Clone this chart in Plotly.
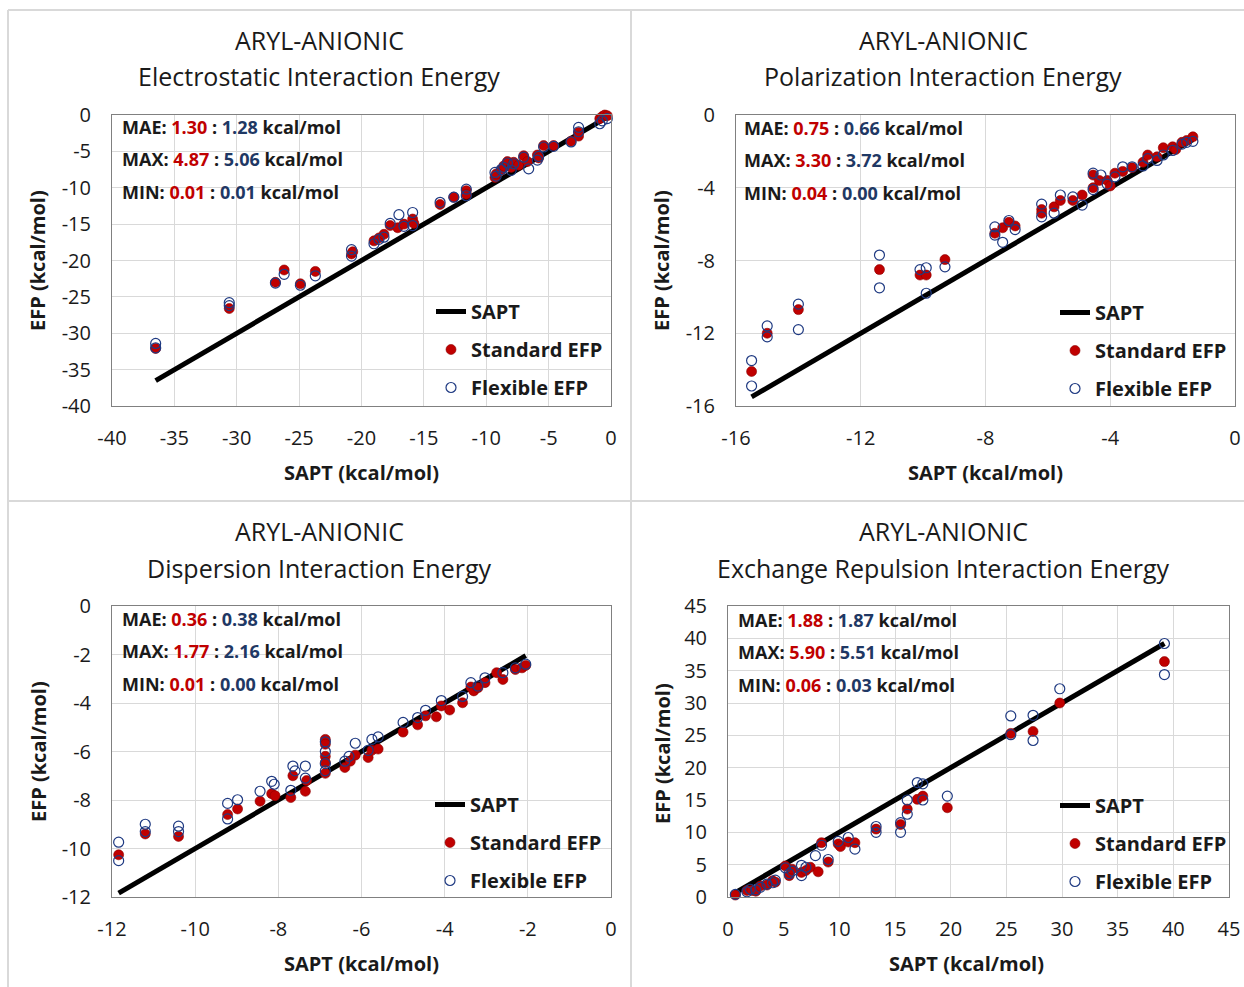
import plotly.graph_objects as go

# ---------------- data ----------------
# Electrostatic
elst_std_sapt = [-36.5, -30.6, -26.9, -26.2, -24.9, -23.7, -20.8, -20.7, -19.0, -18.6, -18.2, -17.7, -17.1, -16.6,
                 -15.9, -15.8, -13.7, -12.6, -11.6, -11.6, -9.3, -9.2, -8.8, -8.6, -8.3, -8.0, -7.8, -7.4, -7.0,
                 -6.7, -5.9, -5.8, -5.4, -4.6, -3.2, -2.6, -2.6, -0.9, -0.7, -0.5, -0.3]
elst_std_efp = [-32.1, -26.6, -23.0, -21.3, -23.2, -21.5, -19.1, -18.8, -17.3, -16.9, -16.4, -15.2, -15.5, -15.0,
                -14.3, -14.9, -12.3, -11.3, -10.4, -10.9, -8.6, -8.1, -7.6, -7.0, -6.4, -7.2, -6.5, -6.9, -5.6,
                -6.4, -5.5, -5.9, -4.2, -4.2, -3.6, -2.4, -2.9, -0.5, -0.2, 0.0, -0.1]
elst_flex_sapt = [-36.5, -36.5, -30.6, -30.6, -26.9, -26.2, -24.9, -23.7, -20.8, -20.8, -19.0, -18.6, -18.2, -17.7,
                  -17.0, -16.6, -15.9, -15.9, -13.7, -12.6, -11.6, -11.6, -9.3, -9.2, -8.8, -8.6, -8.3, -8.0, -7.8,
                  -7.0, -6.6, -5.9, -5.8, -5.4, -4.6, -3.2, -2.6, -2.6, -0.9, -0.7, -0.3]
elst_flex_efp = [-31.4, -32.0, -25.8, -26.2, -23.1, -21.9, -23.4, -22.1, -18.5, -19.4, -17.7, -17.1, -16.8, -14.9,
                 -13.7, -15.3, -13.4, -15.2, -12.0, -11.3, -10.2, -11.1, -7.9, -8.4, -7.5, -7.2, -6.6, -7.6, -6.7,
                 -5.8, -7.4, -6.2, -5.7, -4.4, -4.3, -3.7, -1.7, -2.3, -1.2, -0.8, -0.5]

# Polarization
pol_std_sapt = [-15.5, -15.0, -14.0, -11.4, -10.1, -9.9, -9.3, -7.7, -7.45, -7.25, -7.05, -6.2, -6.2, -5.8, -5.6,
                -5.2, -4.9, -4.55, -4.55, -4.35, -4.1, -4.0, -3.85, -3.6, -3.3, -2.95, -2.8, -2.5, -2.3, -2.0,
                -1.9, -1.7, -1.55, -1.35]
pol_std_efp = [-14.1, -12.0, -10.7, -8.5, -8.8, -8.8, -7.95, -6.5, -6.2, -5.9, -6.1, -5.2, -5.4, -5.05, -4.7,
               -4.7, -4.4, -3.3, -4.0, -3.6, -3.6, -3.9, -3.2, -3.1, -2.9, -2.6, -2.2, -2.3, -1.8, -1.75,
               -1.9, -1.5, -1.4, -1.2]
pol_flex_sapt = [-15.5, -15.5, -15.0, -15.0, -14.0, -14.0, -11.4, -11.4, -10.1, -9.9, -9.9, -9.3, -7.7, -7.7,
                 -7.45, -7.25, -7.05, -6.2, -6.2, -5.8, -5.6, -5.2, -4.9, -4.55, -4.55, -4.3, -4.1, -3.85, -3.6,
                 -3.3, -2.95, -2.8, -2.5, -2.3, -2.0, -1.7, -1.55, -1.35]
pol_flex_efp = [-13.5, -14.9, -11.6, -12.2, -10.4, -11.8, -7.7, -9.5, -8.5, -8.4, -9.8, -8.35, -6.15, -6.6,
                -7.0, -5.8, -6.3, -4.9, -5.6, -5.4, -4.4, -4.5, -4.95, -3.2, -4.1, -3.3, -3.8, -3.4, -2.85,
                -2.85, -2.8, -2.4, -2.5, -2.2, -1.95, -1.6, -1.5, -1.45]

# Dispersion
disp_std_sapt = [-11.84, -11.2, -10.4, -9.22, -8.98, -8.44, -8.16, -8.08, -7.7, -7.65, -7.35, -7.32, -6.87, -6.87,
                 -6.87, -6.87, -6.87, -6.4, -6.27, -6.15, -5.84, -5.75, -5.6, -5.0, -4.65, -4.46, -4.2, -4.08,
                 -3.88, -3.57, -3.37, -3.3, -3.2, -3.03, -2.75, -2.6, -2.3, -2.14, -2.05]
disp_std_efp = [-10.26, -9.4, -9.5, -8.6, -8.37, -8.05, -7.74, -7.82, -7.9, -7.0, -7.64, -7.2, -5.5, -5.7,
                -6.2, -6.45, -6.9, -6.66, -6.4, -6.15, -6.25, -5.95, -5.9, -5.2, -4.9, -4.53, -4.57, -4.12,
                -4.29, -3.99, -3.34, -3.5, -3.37, -3.16, -2.75, -3.03, -2.62, -2.55, -2.45]
disp_flex_sapt = [-11.84, -11.84, -11.2, -11.2, -10.4, -10.4, -9.22, -9.22, -8.98, -8.44, -8.16, -8.1, -7.7, -7.65,
                  -7.6, -7.35, -7.35, -6.87, -6.87, -6.87, -6.87, -6.4, -6.3, -6.15, -5.84, -5.75, -5.6, -5.0,
                  -4.65, -4.46, -4.08, -3.57, -3.37, -3.2, -3.03, -2.6, -2.3, -2.05]
disp_flex_efp = [-9.74, -10.5, -9.0, -9.3, -9.08, -9.3, -8.14, -8.78, -7.99, -7.64, -7.23, -7.35, -7.6, -6.6,
                 -6.8, -6.6, -7.1, -5.6, -6.0, -6.5, -6.8, -6.4, -6.2, -5.66, -5.95, -5.5, -5.4, -4.8,
                 -4.6, -4.3, -3.9, -3.73, -3.16, -3.3, -2.96, -2.75, -2.55, -2.4]

# Exchange repulsion
exch_std_sapt = [0.66, 1.7, 2.15, 2.5, 2.9, 3.5, 4.0, 4.25, 5.15, 5.5, 5.75, 6.6, 7.0, 7.4, 8.1, 8.4, 9.0, 9.9,
                 10.1, 10.8, 11.4, 13.3, 15.5, 16.1, 17.0, 17.5, 19.7, 25.4, 27.4, 29.8, 39.2]
exch_std_efp = [0.3, 1.0, 1.0, 0.9, 1.7, 1.85, 2.5, 2.3, 4.8, 3.3, 4.3, 3.8, 4.1, 4.6, 3.9, 8.4, 5.4, 8.2,
                7.8, 8.5, 8.4, 10.5, 11.2, 13.6, 15.1, 15.6, 13.8, 25.3, 25.6, 30.0, 36.4]
exch_flex_sapt = [0.66, 1.7, 2.0, 2.5, 2.9, 3.5, 4.0, 4.25, 5.15, 5.5, 5.75, 6.6, 6.6, 7.0, 7.85, 8.4, 9.0, 9.9,
                  10.8, 11.4, 13.3, 13.3, 15.5, 15.5, 16.1, 16.1, 17.0, 17.5, 17.5, 19.7, 25.4, 25.4, 27.4, 27.4,
                  29.8, 39.2, 39.2]
exch_flex_efp = [0.4, 0.8, 1.2, 1.1, 1.5, 2.0, 2.2, 2.6, 4.5, 3.6, 4.0, 4.9, 3.3, 4.6, 6.4, 8.0, 5.8, 8.6,
                 9.2, 7.4, 10.0, 10.9, 10.0, 11.5, 12.8, 15.0, 17.7, 17.5, 15.0, 15.6, 28.0, 25.1, 28.1, 24.2,
                 32.2, 39.2, 34.4]

panel_titles = ["Electrostatic Interaction Energy", "Polarization Interaction Energy",
                "Dispersion Interaction Energy", "Exchange Repulsion Interaction Energy"]
stats_std = [["1.30", "4.87", "0.01"], ["0.75", "3.30", "0.04"], ["0.36", "1.77", "0.01"], ["1.88", "5.90", "0.06"]]
stats_flex = [["1.28", "5.06", "0.01"], ["0.66", "3.72", "0.00"], ["0.38", "2.16", "0.00"], ["1.87", "5.51", "0.03"]]
stat_names = ["MAE", "MAX", "MIN"]
ticks_elst = [-40, -35, -30, -25, -20, -15, -10, -5, 0]
ticks_pol = [-16, -12, -8, -4, 0]
ticks_disp = [-12, -10, -8, -6, -4, -2, 0]
ticks_exch = [0, 5, 10, 15, 20, 25, 30, 35, 40, 45]

# ---------------- layout helpers ----------------
W, H, OFF = 1244, 987, 0
def fx(X):
    return (X - OFF) / W
def fy(Y):
    return 1 - (Y - OFF) / H

FONT = "Open Sans"
RED = "#C00000"
BLUE = "#1F3A82"
STAT_BLUE = "#1F3864"

panels = [
    dict(sx=elst_std_sapt, sy=elst_std_efp, fxv=elst_flex_sapt, fyv=elst_flex_efp, ticks=ticks_elst,
         dom=(112, 611, 115, 406), title_x=319, leg=(431, 292), stat=(120, 127), ylab=(38, 261), xlab=(361, 472)),
    dict(sx=pol_std_sapt, sy=pol_std_efp, fxv=pol_flex_sapt, fyv=pol_flex_efp, ticks=ticks_pol,
         dom=(736, 1235, 115, 406), title_x=943, leg=(1055, 293), stat=(742, 128), ylab=(662, 261), xlab=(985, 472)),
    dict(sx=disp_std_sapt, sy=disp_std_efp, fxv=disp_flex_sapt, fyv=disp_flex_efp, ticks=ticks_disp,
         dom=(112, 611, 606, 897), title_x=319, leg=(430, 785), stat=(120, 619), ylab=(38, 752), xlab=(361, 963)),
    dict(sx=exch_std_sapt, sy=exch_std_efp, fxv=exch_flex_sapt, fyv=exch_flex_efp, ticks=ticks_exch,
         dom=(728, 1229, 606, 897), title_x=943, leg=(1055, 786), stat=(736, 620), ylab=(662, 754), xlab=(967, 963)),
]
title_rows = [(40, 76), (40, 76), (531, 568), (531, 568)]

fig = go.Figure()
annotations = []
layout_axes = {}

for i, p in enumerate(panels):
    n = i + 1
    xa = "x" if n == 1 else f"x{n}"
    ya = "y" if n == 1 else f"y{n}"
    lg = "legend" if n == 1 else f"legend{n}"
    lo = min(p["ticks"]); hi = max(p["ticks"])
    allx = p["sx"] + p["fxv"]
    line_x = [min(allx), max(allx)]
    fig.add_trace(go.Scatter(x=line_x, y=line_x, mode="lines", name="SAPT", line=dict(color="black", width=5),
                             xaxis=xa, yaxis=ya, legend=lg, legendgroup=f"s{n}", cliponaxis=False))
    fig.add_trace(go.Scatter(x=p["sx"], y=p["sy"], mode="markers", name="Standard EFP",
                             marker=dict(color=RED, size=10, line=dict(color="#8B0000", width=0.6)),
                             xaxis=xa, yaxis=ya, legend=lg, legendgroup=f"r{n}", cliponaxis=False))
    fig.add_trace(go.Scatter(x=p["fxv"], y=p["fyv"], mode="markers", name="Flexible EFP",
                             marker=dict(symbol="circle-open", color=BLUE, size=10, line=dict(color=BLUE, width=1.2)),
                             xaxis=xa, yaxis=ya, legend=lg, legendgroup=f"f{n}", cliponaxis=False))
    x0, x1, y0, y1 = p["dom"]
    axcommon = dict(showgrid=True, gridcolor="#D9D9D9", gridwidth=1, zeroline=False, showline=True,
                    linecolor="#808080", linewidth=1, mirror=True, ticks="", automargin=False,
                    tickfont=dict(family=FONT, size=20, color="#1a1a1a"), ticklabeloverflow="allow",
                    tickvals=p["ticks"], ticktext=[str(t) for t in p["ticks"]], range=[lo, hi],
                    ticklabelstandoff=14)
    layout_axes["xaxis" if n == 1 else f"xaxis{n}"] = dict(axcommon, domain=[fx(x0), fx(x1)], anchor=ya)
    layout_axes["yaxis" if n == 1 else f"yaxis{n}"] = dict(axcommon, domain=[fy(y1), fy(y0)], anchor=xa,
                                                           ticklabelstandoff=16)
    layout_axes[lg] = dict(x=fx(p["leg"][0]), y=fy(p["leg"][1]), xanchor="left", yanchor="top",
                           bgcolor="rgba(0,0,0,0)", font=dict(family=FONT, size=20, color="#1a1a1a", weight="bold"),
                           traceorder="grouped", tracegroupgap=9, itemwidth=30)
    # titles
    ty1, ty2 = title_rows[i]
    annotations.append(dict(text="ARYL-ANIONIC", x=fx(p["title_x"]), y=fy(ty1), xref="paper", yref="paper",
                            showarrow=False, xanchor="center", yanchor="middle",
                            font=dict(family=FONT, size=25, color="#1a1a1a")))
    annotations.append(dict(text=panel_titles[i], x=fx(p["title_x"]), y=fy(ty2), xref="paper", yref="paper",
                            showarrow=False, xanchor="center", yanchor="middle",
                            font=dict(family=FONT, size=25, color="#1a1a1a")))
    # stats
    for k in range(3):
        txt = (f"{stat_names[k]}: <span style='color:{RED}'>{stats_std[i][k]}</span> : "
               f"<span style='color:{STAT_BLUE}'>{stats_flex[i][k]}</span> kcal/mol")
        annotations.append(dict(text=txt, x=fx(p["stat"][0]), y=fy(p["stat"][1] + 32.3 * k), xref="paper",
                                yref="paper", showarrow=False, xanchor="left", yanchor="middle",
                                font=dict(family=FONT, size=18, color="#1a1a1a", weight="bold")))
    # axis titles
    annotations.append(dict(text="EFP (kcal/mol)", x=fx(p["ylab"][0]), y=fy(p["ylab"][1]), xref="paper",
                            yref="paper", showarrow=False, xanchor="center", yanchor="middle", textangle=-90,
                            font=dict(family=FONT, size=20, color="#1a1a1a", weight="bold")))
    annotations.append(dict(text="SAPT (kcal/mol)", x=fx(p["xlab"][0]), y=fy(p["xlab"][1]), xref="paper",
                            yref="paper", showarrow=False, xanchor="center", yanchor="middle",
                            font=dict(family=FONT, size=20, color="#1a1a1a", weight="bold")))

sep = dict(type="line", xref="paper", yref="paper", line=dict(color="#D9D9D9", width=2))
shapes = [
    dict(sep, x0=fx(631), x1=fx(631), y0=fy(10), y1=fy(990)),
    dict(sep, x0=fx(8), x1=fx(1250), y0=fy(501), y1=fy(501)),
    dict(sep, x0=fx(8), x1=fx(1250), y0=fy(10), y1=fy(10)),
    dict(sep, x0=fx(8), x1=fx(8), y0=fy(10), y1=fy(990)),
]

fig.update_layout(width=W, height=H, margin=dict(l=0, r=0, t=0, b=0, autoexpand=False), paper_bgcolor="white",
                  plot_bgcolor="white", showlegend=True, annotations=annotations, shapes=shapes,
                  font=dict(family=FONT), hovermode=False, **layout_axes)

fig.write_html("out.html", config={"displayModeBar": False},
               post_script="document.body.style.margin='0';document.body.style.overflow='hidden';")
